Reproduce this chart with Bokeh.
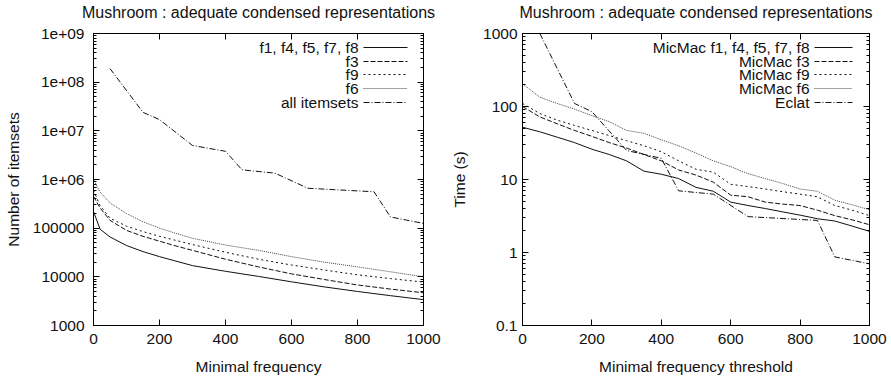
from bokeh.plotting import figure
from bokeh.layouts import row
from bokeh.models import (Range1d, LinearAxis, LogAxis, FixedTicker, Label, Arrow,
                          CustomJSTickFormatter)
from bokeh.embed import file_html
from bokeh.resources import INLINE

# ---------------- data ----------------
title_text = "Mushroom : adequate condensed representations"

# left chart: number of itemsets
x_low = [0, 20, 50, 100, 150, 200, 250, 300, 400, 500, 600, 700, 800, 900, 1000]
n_f1 = [2.2e5, 9.5e4, 6.6e4, 4.4e4, 3.3e4, 2.6e4, 2.1e4, 1.7e4, 1.3e4, 1.02e4, 7.9e3, 6.2e3, 5.0e3, 4.1e3, 3.4e3]
n_f3 = [4.5e5, 2.6e5, 1.45e5, 9.0e4, 6.8e4, 5.4e4, 4.3e4, 3.5e4, 2.3e4, 1.6e4, 1.15e4, 8.8e3, 6.8e3, 5.6e3, 4.7e3]
n_f9 = [6.0e5, 2.9e5, 1.6e5, 1.1e5, 8.5e4, 6.8e4, 5.6e4, 4.6e4, 3.2e4, 2.3e4, 1.75e4, 1.38e4, 1.1e4, 9.2e3, 7.8e3]
n_f6 = [1.0e6, 5.5e5, 3.3e5, 2.0e5, 1.35e5, 1.0e5, 7.8e4, 6.2e4, 4.5e4, 3.5e4, 2.6e4, 2.0e4, 1.6e4, 1.27e4, 1.0e4]
x_all = [50, 150, 200, 300, 400, 450, 550, 650, 850, 900, 1000]
n_all = [1.9e8, 2.4e7, 1.7e7, 5.0e6, 3.8e6, 1.58e6, 1.35e6, 6.6e5, 5.6e5, 1.7e5, 1.25e5]

# right chart: time (s)
x_time = [0, 50, 100, 150, 200, 250, 300, 350, 400, 450, 500, 550, 600, 650, 700, 750, 800, 850, 900, 950, 1000]
t_f1 = [52, 45, 38, 32, 26, 22, 18, 13, 11.8, 10.3, 7.8, 6.9, 4.9, 4.4, 4.0, 3.6, 3.25, 2.9, 2.7, 2.3, 1.95]
t_f3 = [100, 72, 58, 47, 39, 32, 27, 22, 18, 13.5, 11.5, 9.2, 6.1, 5.8, 4.9, 4.6, 4.4, 3.8, 3.2, 2.8, 2.4]
t_f9 = [110, 80, 65, 55, 47, 40, 34, 29, 24, 18, 13.8, 12.6, 8.6, 8.0, 7.4, 6.8, 6.3, 5.8, 4.4, 3.8, 3.2]
t_f6 = [205, 134, 110, 92, 75, 62, 47, 43, 35, 29, 23, 18, 15, 12, 10.3, 8.8, 7.4, 6.9, 5.2, 4.5, 3.85]
x_eclat = [50, 150, 200, 300, 400, 450, 550, 650, 850, 900, 1000]
t_eclat = [1000, 110, 85, 25, 19.5, 7.0, 6.3, 3.1, 2.75, 0.87, 0.70]

x_ticks = [0, 200, 400, 600, 800, 1000]
left_y_ticks = [1e3, 1e4, 1e5, 1e6, 1e7, 1e8, 1e9]
left_y_labels = ["1000", "10000", "100000", "1e+06", "1e+07", "1e+08", "1e+09"]
right_y_ticks = [0.1, 1, 10, 100, 1000]
right_y_labels = ["0.1", "1", "10", "100", "1000"]

left_legend = ["f1, f4, f5, f7, f8", "f3", "f9", "f6", "all itemsets"]
right_legend = ["MicMac f1, f4, f5, f7, f8", "MicMac f3", "MicMac f9", "MicMac f6", "Eclat"]
dashes = ["solid", "5 2", "2 3", "1 1", "6 2 1 2"]
line_colors = ["#111111", "#111111", "#111111", "#444444", "#111111"]

FONT = "Liberation Sans"
FS = "15.5px"
FS_TITLE = "16px"
TXT = "#111111"


def minor_list(majors):
    out = []
    for m in majors[:-1]:
        for k in range(2, 10):
            out.append(m * k)
    return out


def style_axis(ax):
    ax.axis_line_color = "black"
    ax.major_tick_in = 6
    ax.major_tick_out = 0
    ax.minor_tick_in = 3
    ax.minor_tick_out = 0
    ax.major_tick_line_color = "black"
    ax.minor_tick_line_color = "black"
    ax.major_label_text_font = FONT
    ax.major_label_text_font_size = FS
    ax.major_label_text_color = TXT
    ax.axis_label_text_font = FONT
    ax.axis_label_text_font_size = FS
    ax.axis_label_text_font_style = "normal"
    ax.axis_label_text_color = TXT


def make_fig(width, y_lo, y_hi, y_ticks, y_labels, xlabel, ylabel,
             border_left, border_right, ylabel_standoff, ylab_standoff2):
    p = figure(width=width, height=380, x_axis_type="linear", y_axis_type="log",
               x_range=Range1d(0, 1000), y_range=Range1d(y_lo, y_hi),
               output_backend="svg", toolbar_location=None,
               min_border_left=border_left, min_border_right=border_right,
               min_border_top=33, min_border_bottom=55)
    p.grid.visible = False
    p.outline_line_color = "black"
    p.background_fill_color = "white"
    p.border_fill_color = "white"

    xt = FixedTicker(ticks=x_ticks, minor_ticks=[])
    yt = FixedTicker(ticks=y_ticks, minor_ticks=minor_list(y_ticks))
    blank = CustomJSTickFormatter(code="return '';")

    xa = p.xaxis[0]
    xa.ticker = xt
    style_axis(xa)
    xa.axis_label = xlabel
    xa.major_label_standoff = 8
    xa.axis_label_standoff = 11

    ya = p.yaxis[0]
    ya.ticker = yt
    style_axis(ya)
    ya.axis_label = ylabel
    ya.major_label_overrides = {t: l for t, l in zip(y_ticks, y_labels)}
    ya.major_label_standoff = ylabel_standoff
    ya.axis_label_standoff = ylab_standoff2

    # top axis carries the title as its label (mirrored ticks like gnuplot)
    top = LinearAxis(ticker=xt, formatter=blank)
    style_axis(top)
    top.axis_label_text_font_size = FS_TITLE
    top.major_label_standoff = 0
    top.axis_label = title_text
    top.axis_label_standoff = 13
    p.add_layout(top, "above")

    right = LogAxis(ticker=yt, formatter=blank)
    style_axis(right)
    right.major_label_standoff = 0
    p.add_layout(right, "right")
    return p


def add_legend(p, labels, text_right, sample_x0, sample_x1, rows):
    # positions in screen units relative to the plot frame (origin bottom-left)
    for lab, dash, col, yy in zip(labels, dashes, line_colors, rows):
        p.add_layout(Label(x=text_right, y=yy, x_units="screen", y_units="screen",
                           text=lab, text_align="right", text_baseline="middle",
                           text_font=FONT, text_font_size=FS, text_color=TXT))
        p.add_layout(Arrow(end=None, x_start=sample_x0, y_start=yy,
                           x_end=sample_x1, y_end=yy, start_units="screen",
                           end_units="screen", line_color=col, line_width=1,
                           line_dash=dash))


legend_rows = [278, 264, 251, 237, 223]

# ---------------- left chart ----------------
p1 = make_fig(445, 1e3, 1e9, left_y_ticks, left_y_labels,
              "Minimal frequency", "Number of itemsets", 93, 22, 9, 8)
left_series = [(x_low, n_f1), (x_low, n_f3), (x_low, n_f9), (x_low, n_f6), (x_all, n_all)]
for (xs, ys), dash, col in zip(left_series, dashes, line_colors):
    p1.line(xs, ys, line_color=col, line_width=1, line_dash=dash)
add_legend(p1, left_legend, 265, 270, 314, legend_rows)

# ---------------- right chart ----------------
p2 = make_fig(446, 0.1, 1000, right_y_ticks, right_y_labels,
              "Minimal frequency threshold", "Time (s)", 77, 22, 5, 12)
right_series = [(x_time, t_f1), (x_time, t_f3), (x_time, t_f9), (x_time, t_f6), (x_eclat, t_eclat)]
for (xs, ys), dash, col in zip(right_series, dashes, line_colors):
    p2.line(xs, ys, line_color=col, line_width=1, line_dash=dash)
add_legend(p2, right_legend, 287, 292, 330, legend_rows)

layout = row(p1, p2)
open("out.html", "w").write(file_html(layout, INLINE))
